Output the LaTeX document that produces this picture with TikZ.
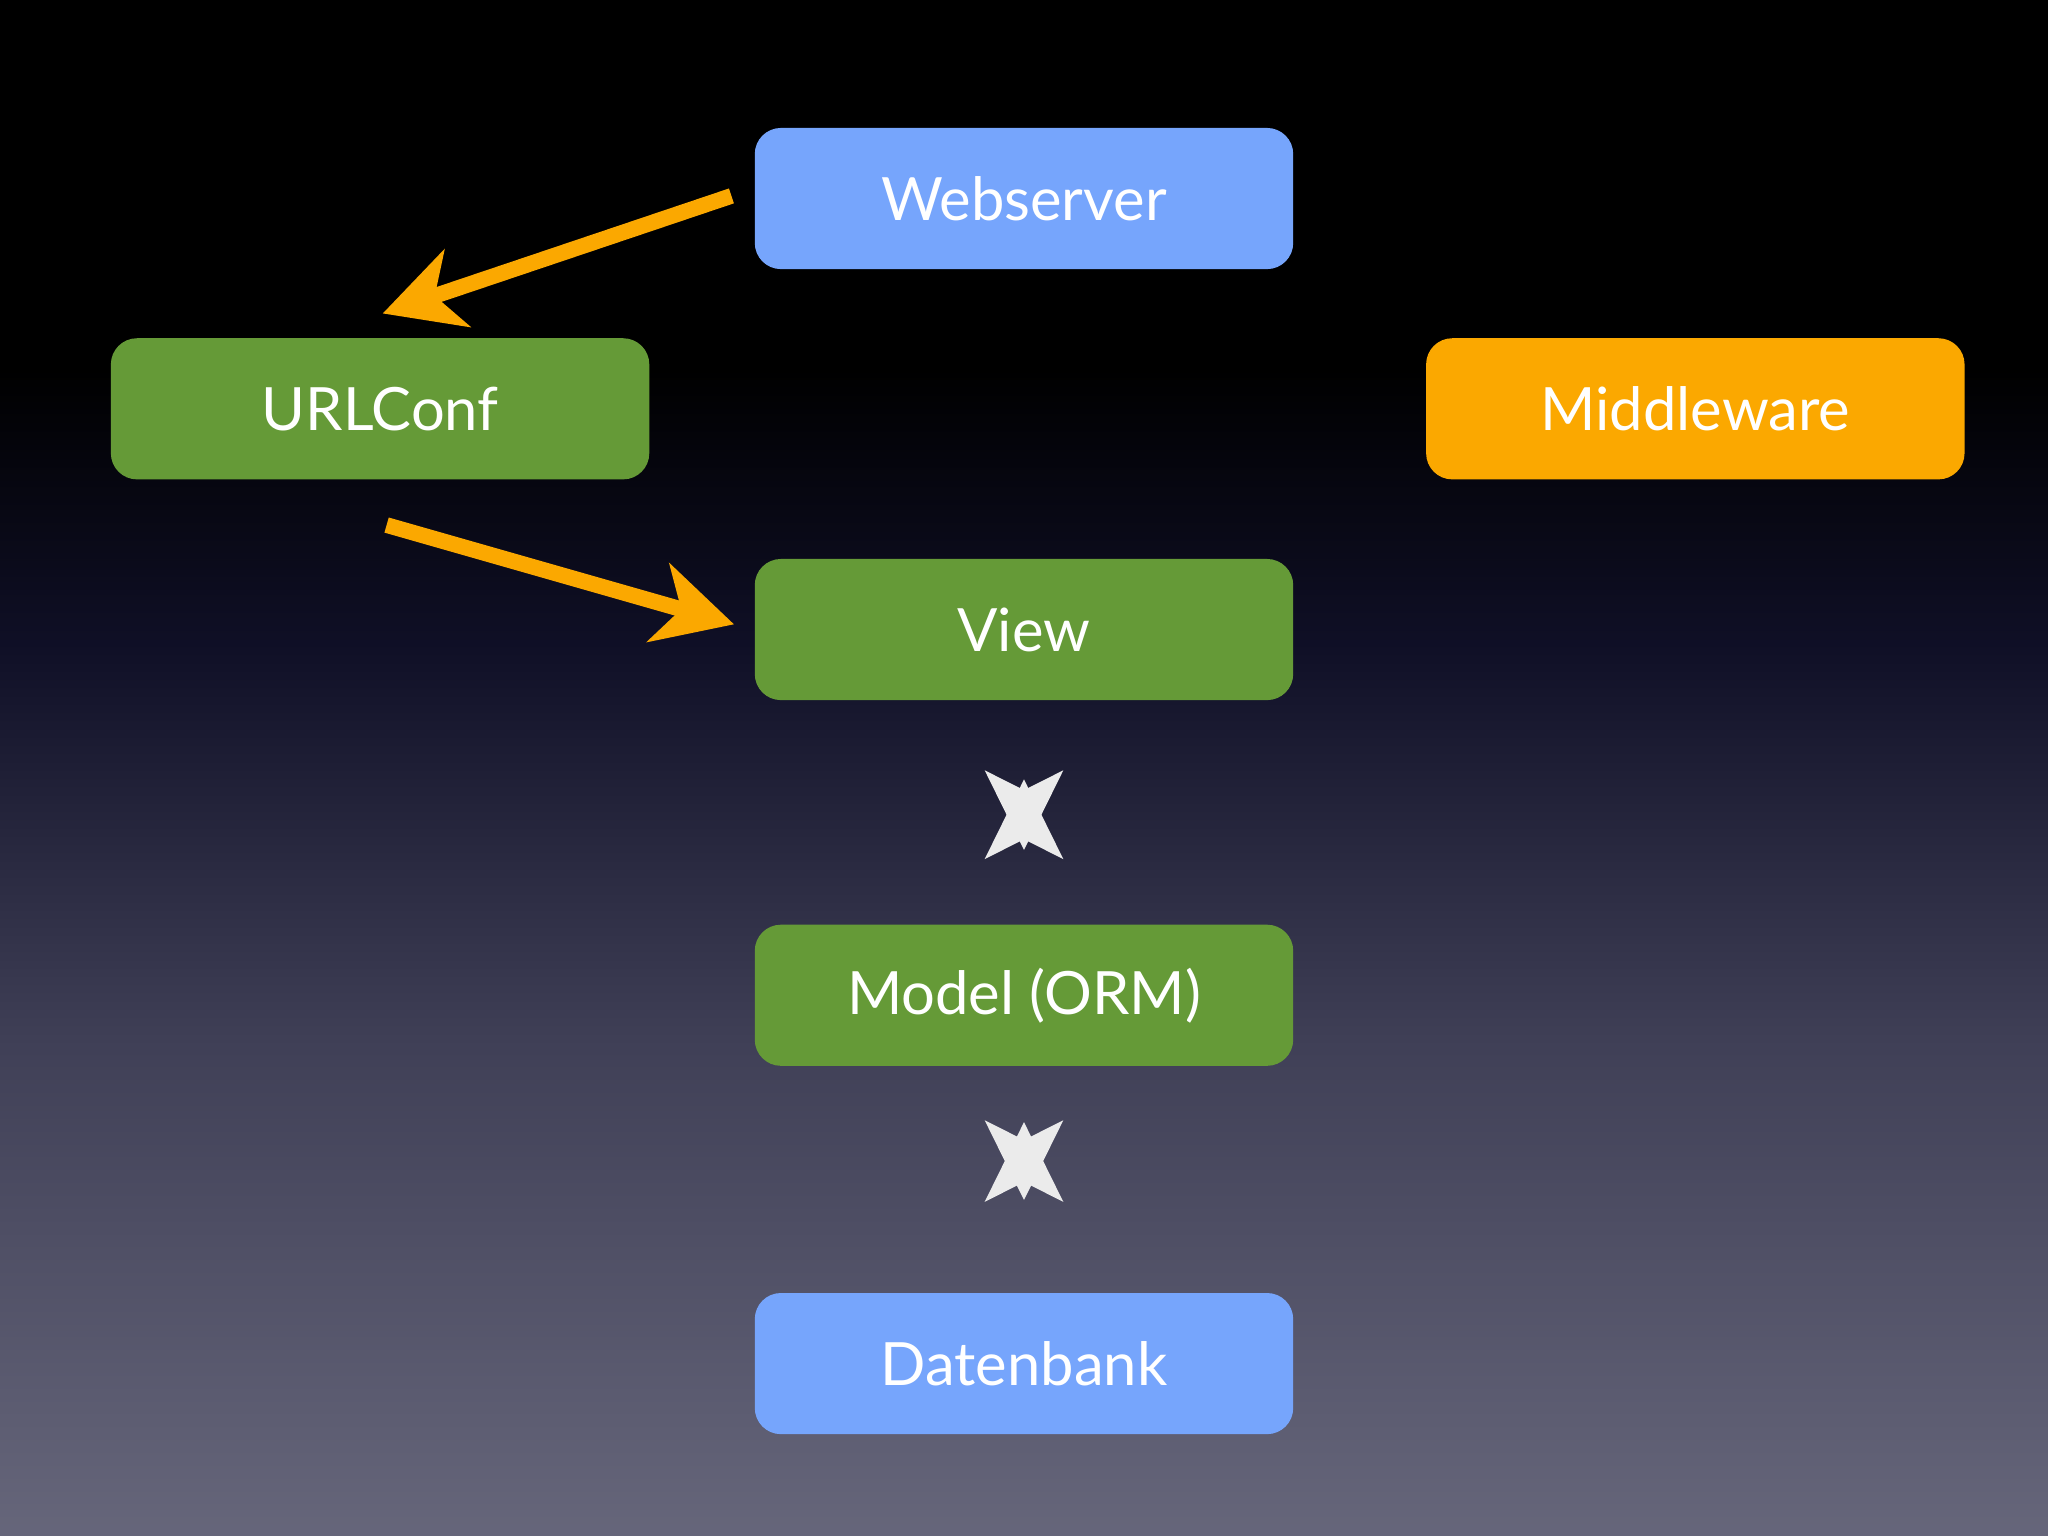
\documentclass[tikz,border=0pt]{standalone}
\usepackage{fontspec}
\setmainfont{Lato}
\usetikzlibrary{arrows.meta}
\definecolor{bx}{HTML}{76A5FC}
\definecolor{gr}{HTML}{659A37}
\definecolor{og}{HTML}{FBA800}
\definecolor{wh}{HTML}{EBEBEB}
\pgfdeclareverticalshading{bg}{100bp}{
  rgb(0bp)=(0.40,0.40,0.48); rgb(25bp)=(0.40,0.40,0.48);
  rgb(41bp)=(0.25,0.25,0.34); rgb(54bp)=(0.06,0.06,0.15);
  rgb(63bp)=(0,0,0); rgb(75bp)=(0,0,0); rgb(100bp)=(0,0,0)}
\tikzset{
  box/.style={rounded corners=0.2cm, minimum width=4.12cm, minimum height=1.08cm,
    inner sep=0, text=white, font=\fontsize{13}{15}\selectfont},
  oarr/.style={draw=og, line width=0.12cm, -{Stealth[length=0.6cm,width=0.62cm,inset=0.18cm]}},
  warr/.style={draw=wh, line width=0.14cm, {Stealth[length=0.6cm,width=0.58cm,inset=0.14cm]}-{Stealth[length=0.6cm,width=0.58cm,inset=0.14cm]}}
}
\begin{document}
\begin{tikzpicture}[x=0.01cm,y=-0.01cm]
\useasboundingbox (0,0) rectangle (1568,1176);
\shade[shading=bg] (0,0) rectangle (1568,1176);
\node[box, fill=bx] (web) at (784,152) {Webserver};
\node[box, fill=gr] (url) at (291,313) {URLConf};
\node[box, fill=og] (mid) at (1298,313) {Middleware};
\node[box, fill=gr] (view) at (784,482) {View};
\node[box, fill=gr] (model) at (784,762) {Model (ORM)};
\node[box, fill=bx] (db) at (784,1044) {Datenbank};
\coordinate (a1) at (560,150);
\coordinate (a2) at (293,240);
\coordinate (b1) at (296,402);
\coordinate (b2) at (562,478);
\draw[oarr] (a1) -- (a2);
\draw[oarr] (b1) -- (b2);
\draw[warr] ([yshift=-17]view.south) -- ([yshift=16]model.north);
\draw[warr] ([yshift=-12]model.south) -- ([yshift=20]db.north);
\end{tikzpicture}
\end{document}
